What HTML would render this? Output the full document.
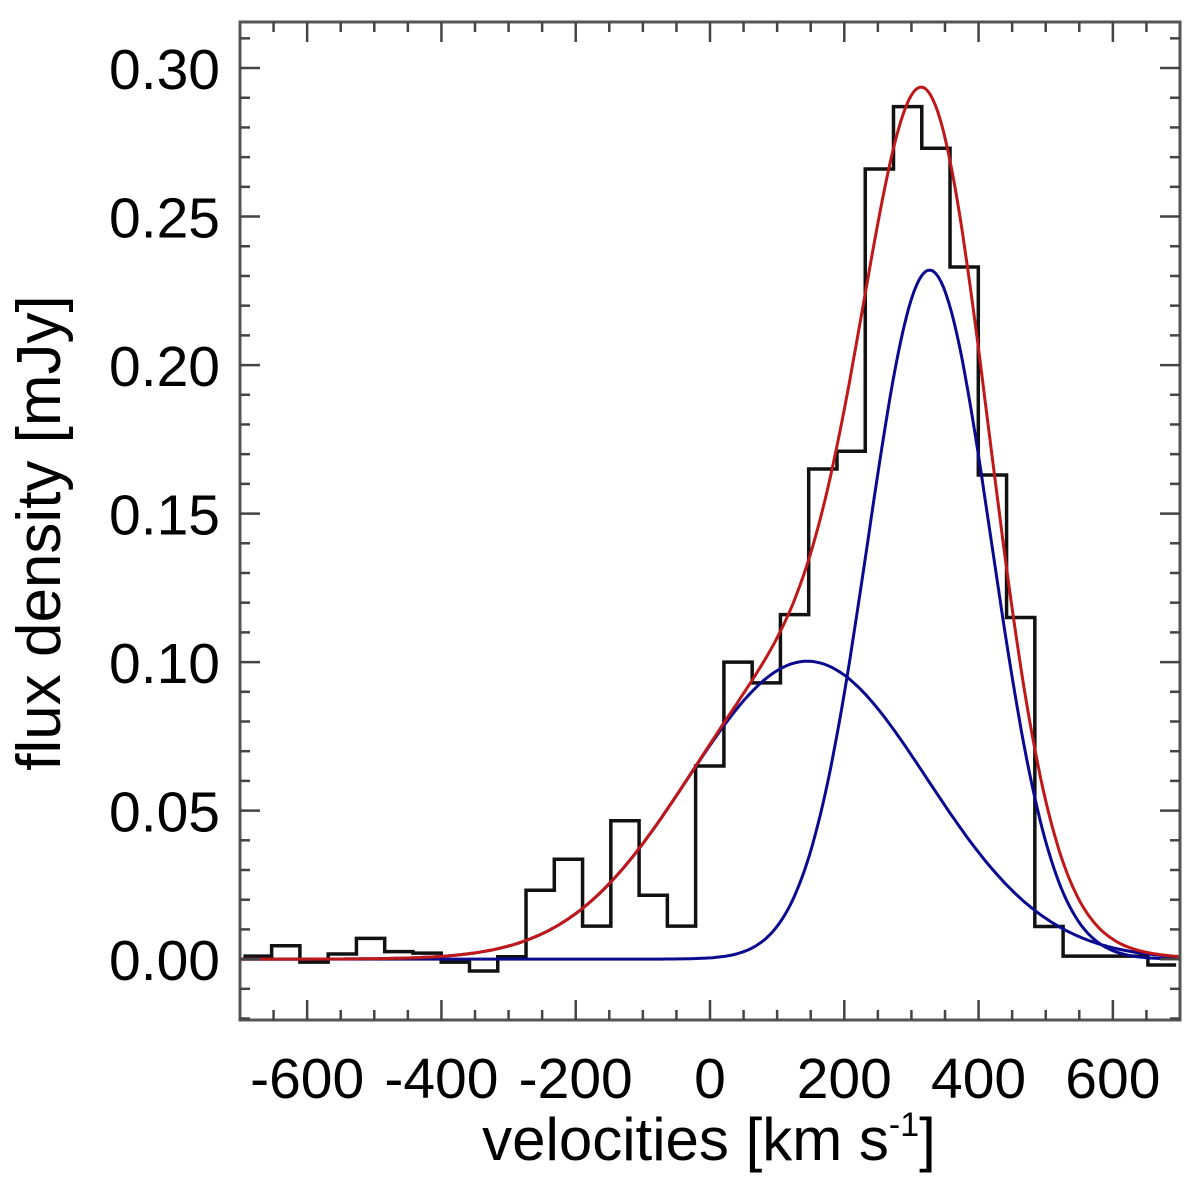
<!DOCTYPE html>
<html><head><meta charset="utf-8"><style>
body{margin:0;background:#fff}
svg{display:block}
text{font-family:"Liberation Sans",sans-serif;fill:#000}
</style></head><body>
<svg id="chart" width="1200" height="1200" xmlns="http://www.w3.org/2000/svg">
<g id="curves"></g>
<g id="axes"></g>
<text x="709" y="1160" font-size="60" text-anchor="middle">velocities [km s<tspan dy="-24" font-size="34">-1</tspan><tspan dy="24">]</tspan></text>
<text transform="translate(60,533) rotate(-90)" font-size="62" text-anchor="middle">flux density [mJy]</text>
</svg>
<script>
const binStart = -695;
const binWidth = 42.1;
const fluxValues = [0.001,0.0045,-0.001,0.0017,0.007,0.0025,0.002,-0.001,-0.004,0.0008,0.0232,0.0336,0.0111,0.0466,0.0215,0.0111,0.065,0.100,0.093,0.116,0.165,0.171,0.266,0.287,0.273,0.233,0.163,0.115,0.011,0.001,0.001,0.001,-0.002];
const broadComp = {amp:0.1003, center:145, sigma:178};
const narrowComp = {amp:0.232, center:327, sigma:92};
const xTicks = [-600,-400,-200,0,200,400,600];
const yTicks = [0.00,0.05,0.10,0.15,0.20,0.25,0.30];
const xMin=-700,xMax=700,yMin=-0.0205,yMax=0.3155;
const L=240,R=1180,T=22,B=1020;
const sx=v=>L+(v-xMin)/(xMax-xMin)*(R-L);
const sy=v=>B-(v-yMin)/(yMax-yMin)*(B-T);
const NS="http://www.w3.org/2000/svg";
function mk(tag,parent,attrs){const e=document.createElementNS(NS,tag);for(const k in attrs)e.setAttribute(k,attrs[k]);parent.appendChild(e);return e;}
const curves=document.getElementById('curves'), axes=document.getElementById('axes');
let d=`M${sx(binStart)},${sy(fluxValues[0])}`;
fluxValues.forEach((v,i)=>{const a=binStart+i*binWidth,b=a+binWidth;d+=` L${sx(a)},${sy(v)} L${sx(b)},${sy(v)}`;if(i<fluxValues.length-1)d+=` L${sx(b)},${sy(fluxValues[i+1])}`;});
const hist=mk('path',curves,{d:d,fill:'none',stroke:'#111',"stroke-width":3.5});


const g=(c,v)=>c.amp*Math.exp(-((v-c.center)**2)/(2*c.sigma**2));
function curve(fn,color,name){let p='';for(let v=xMin;v<=xMax;v+=4){p+=(p?' L':'M')+sx(v).toFixed(1)+','+sy(fn(v)).toFixed(1);}
const e=mk('path',curves,{d:p,fill:'none',stroke:color,"stroke-width":3});

}
curve(v=>g(broadComp,v),'#0a0a90','broad-gaussian');
curve(v=>g(narrowComp,v),'#0a0a90','narrow-gaussian');
curve(v=>g(broadComp,v)+g(narrowComp,v),'#c01818','total-fit');
const fr=mk('rect',axes,{x:L,y:T,width:R-L,height:B-T,fill:'none',stroke:'#555',"stroke-width":3});


for(let v=-650;v<=650;v+=50){const x=sx(v),len=(v%200===0)?20:10;
mk('line',axes,{x1:x,y1:B,x2:x,y2:B-len,stroke:'#444',"stroke-width":2.5});
mk('line',axes,{x1:x,y1:T,x2:x,y2:T+len,stroke:'#444',"stroke-width":2.5});}
for(let k=-2;k<=31;k++){const v=k/100,y=sy(v),len=(k%5===0)?20:10;
mk('line',axes,{x1:L,y1:y,x2:L+len,y2:y,stroke:'#444',"stroke-width":2.5});
mk('line',axes,{x1:R,y1:y,x2:R-len,y2:y,stroke:'#444',"stroke-width":2.5});}
xTicks.forEach(v=>{const t=mk('text',axes,{x:sx(v),y:1098,"font-size":57,"text-anchor":"middle"});t.textContent=v;

});
yTicks.forEach(v=>{const t=mk('text',axes,{x:220,y:sy(v)+21,"font-size":57,"text-anchor":"end"});t.textContent=v.toFixed(2);

});
</script>
</body></html>
